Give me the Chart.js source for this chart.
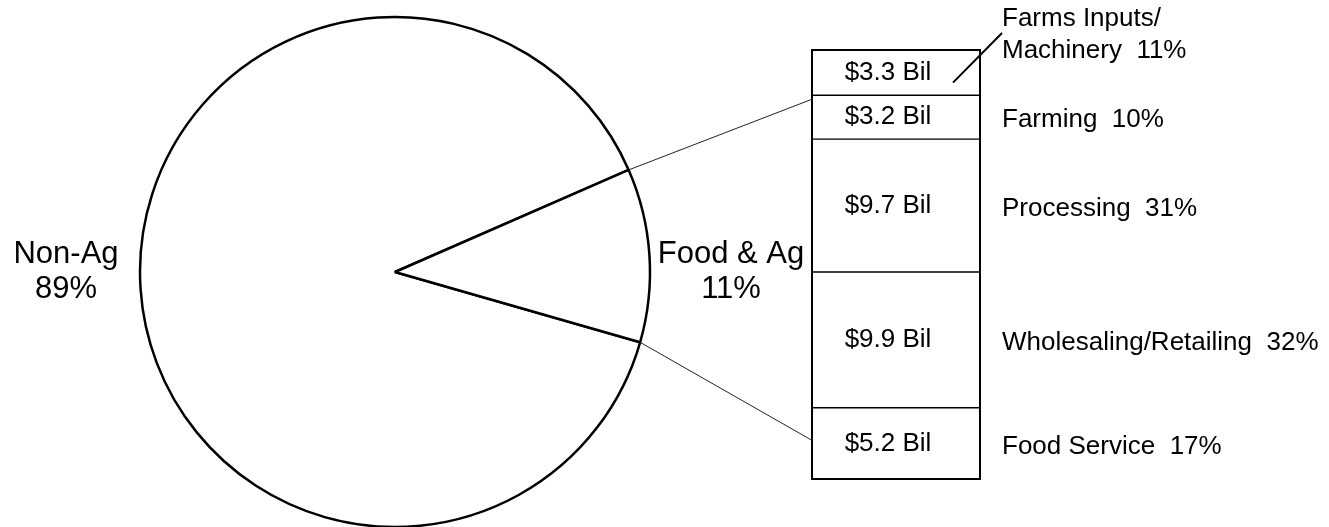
<!DOCTYPE html>
<html>
<head>
<meta charset="utf-8">
<script src="https://cdn.jsdelivr.net/npm/chart.js@4.4.1/dist/chart.umd.min.js"></script>
<style>
  body { margin: 0; background: #fff; }
  #wrap { position: relative; width: 1329px; height: 527px; }
  #wrap canvas { position: absolute; left: 0; top: 0; }
</style>
</head>
<body>
<div id="wrap">
  <canvas id="pieChart" width="1329" height="527"></canvas>
  <canvas id="barChart" width="1329" height="527"></canvas>
</div>
<script>
"use strict";

// Pie: share of economy
const pieLabels = ["Non-Ag", "Food & Ag"];
const pieValues = [89, 11];

// Stacked bar: Food & Ag breakdown, bottom to top
const segNames = ["Food Service", "Wholesaling/Retailing", "Processing", "Farming", ["Farms Inputs/", "Machinery"]];
const segBillions = [5.2, 9.9, 9.7, 3.2, 3.3];
const segPercents = [17, 32, 31, 10, 11];

const FONT = "'Liberation Sans', Arial, sans-serif";

/**
 * Texter vid tårtan
 */
const pieTextPlugin = {
    id: "pieText",
    afterDraw(chart){
        const ctx = chart.ctx;
        ctx.save();
        ctx.fillStyle = "#000";
        ctx.font = "31px " + FONT;
        ctx.textAlign = "center";
        ctx.textBaseline = "alphabetic";
        // Non-Ag till vänster, Food & Ag till höger om cirkeln
        const spots = [66, 731];
        pieLabels.forEach((lbl, i) => {
            ctx.fillText(lbl, spots[i], 263);
            ctx.fillText(pieValues[i] + "%", spots[i], 298);
        });
        ctx.restore();
    }
};

const pieChart = new Chart(document.getElementById("pieChart"), {
    type: "pie",
    data: {
        labels: pieLabels,
        datasets: [{
            data: pieValues,
            backgroundColor: "#fff",
            borderColor: "#000",
            borderWidth: 2.5
        }]
    },
    options: {
        responsive: false,
        animation: false,
        rotation: 106,
        radius: 255,
        layout: { padding: { left: 0, right: 539, top: 17, bottom: 0 } },
        plugins: {
            legend: { display: false },
            tooltip: { enabled: false }
        }
    },
    plugins: [pieTextPlugin]
});

/**
 * Texter i och bredvid stapeln, plus linjer till tårtan
 */
const barTextPlugin = {
    id: "barText",
    afterDraw(chart){
        const ctx = chart.ctx;
        const bars = chart.data.datasets.map((d, i) => chart.getDatasetMeta(i).data[0]);
        ctx.save();

        // ram runt hela stapeln
        const first = bars[0];
        const last = bars[bars.length - 1];
        const left = first.x - first.width / 2;
        const right = first.x + first.width / 2;
        ctx.strokeStyle = "#000";
        ctx.lineWidth = 2;
        ctx.strokeRect(left, last.y, right - left, first.base - last.y);

        ctx.fillStyle = "#000";
        ctx.font = "26px " + FONT;
        ctx.textBaseline = "middle";
        bars.forEach((bar, i) => {
            const mid = (bar.y + bar.base) / 2;
            ctx.textAlign = "center";
            ctx.fillText("$" + segBillions[i].toFixed(1) + " Bil", bar.x - 8, mid);
            ctx.textAlign = "left";
            const name = segNames[i];
            if(Array.isArray(name)){
                ctx.fillText(name[0], right + 22, 19);
                ctx.fillText(name[1] + "  " + segPercents[i] + "%", right + 22, 51);
                ctx.lineWidth = 2;
                ctx.beginPath();
                ctx.moveTo(right - 27, mid + 10);
                ctx.lineTo(right + 22, 33);
                ctx.stroke();
            }else{
                ctx.fillText(name + "  " + segPercents[i] + "%", right + 22, mid + 3);
            }
        });

        // linjer från tårtbiten till stapeln
        const arc = pieChart.getDatasetMeta(0).data[1];
        const r = arc.outerRadius;
        const farming = bars[3];
        const service = bars[0];
        ctx.strokeStyle = "#222";
        ctx.lineWidth = 1;
        ctx.beginPath();
        ctx.moveTo(arc.x + r * Math.cos(arc.startAngle), arc.y + r * Math.sin(arc.startAngle));
        ctx.lineTo(left, farming.y + 4);
        ctx.moveTo(arc.x + r * Math.cos(arc.endAngle), arc.y + r * Math.sin(arc.endAngle));
        ctx.lineTo(left, (service.y + service.base) / 2 - 3);
        ctx.stroke();
        ctx.restore();
    }
};

const total = segBillions.reduce((a, b) => a + b, 0);

new Chart(document.getElementById("barChart"), {
    type: "bar",
    data: {
        labels: ["Food & Ag"],
        datasets: segBillions.map((v, i) => ({
            label: Array.isArray(segNames[i]) ? segNames[i].join(" ") : segNames[i],
            data: [v],
            backgroundColor: "#fff",
            borderColor: "#000",
            borderWidth: 1,
            borderSkipped: false,
            barPercentage: 1,
            categoryPercentage: 1
        }))
    },
    options: {
        responsive: false,
        animation: false,
        layout: { padding: { left: 812, right: 349, top: 50, bottom: 48 } },
        scales: {
            x: { stacked: true, display: false },
            y: { stacked: true, display: false, min: 0, max: total }
        },
        plugins: {
            legend: { display: false },
            tooltip: { enabled: false }
        }
    },
    plugins: [barTextPlugin]
});
</script>
</body>
</html>
